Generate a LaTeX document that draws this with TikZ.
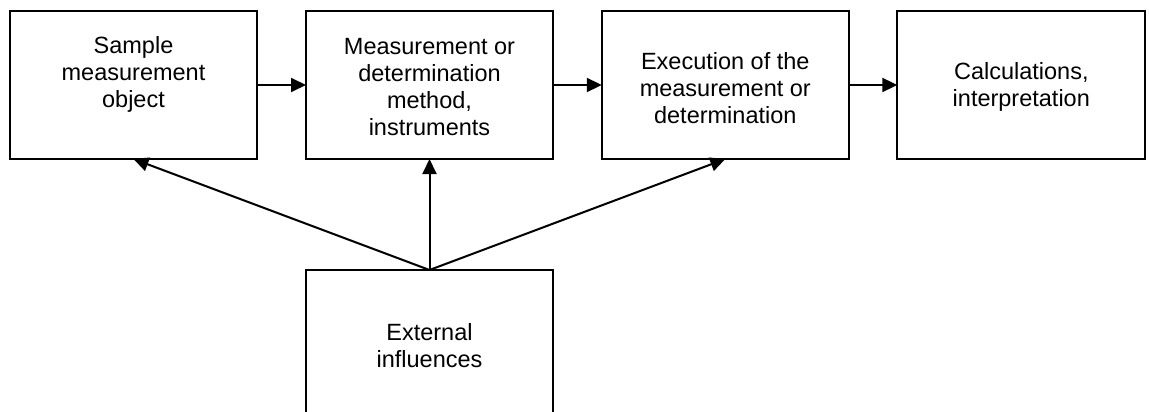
\documentclass[tikz,border=0pt]{standalone}
\usepackage{fontspec}
\setmainfont{Liberation Sans}
\usetikzlibrary{arrows.meta}
\begin{document}
\begin{tikzpicture}[x=1pt,y=-1pt,
  boxstyle/.style={draw=black,line width=2pt,inner sep=0pt,outer sep=0pt},
  lbl/.style={align=center,inner sep=0pt,font=\fontsize{23.5pt}{27pt}\selectfont},
  conn/.style={line width=2pt,-{Triangle[length=15pt,width=14pt]}}]
\useasboundingbox (0,0) rectangle (1149,412);
\node[boxstyle,minimum width=247pt,minimum height=148pt] (b1) at (133.5,85) {};
\node[boxstyle,minimum width=247pt,minimum height=148pt] (b2) at (429.5,85) {};
\node[boxstyle,minimum width=247pt,minimum height=148pt] (b3) at (725.3,85) {};
\node[boxstyle,minimum width=248pt,minimum height=148pt] (b4) at (1021.3,85) {};
\node[boxstyle,minimum width=247pt,minimum height=150pt] (ext) at (429.5,345) {};
\node[lbl] (t1) at (133.5,74) {Sample\\measurement\\object};
\node[lbl] (t2) at (429.5,87) {Measurement or\\determination\\method,\\instruments};
\node[lbl] (t3) at (725.3,88) {Execution of the\\measurement or\\determination};
\node[lbl] (t4) at (1021.3,87) {Calculations,\\interpretation};
\node[lbl] (t5) at (429.5,346) {External\\influences};
\draw[conn] (b1.east) -- (b2.west);
\draw[conn] (b2.east) -- (b3.west);
\draw[conn] (b3.east) -- (b4.west);
\draw[conn] (ext.north) -- (b1.south);
\draw[conn] (ext.north) -- (b2.south);
\draw[conn] (ext.north) -- (b3.south);
\end{tikzpicture}
\end{document}
